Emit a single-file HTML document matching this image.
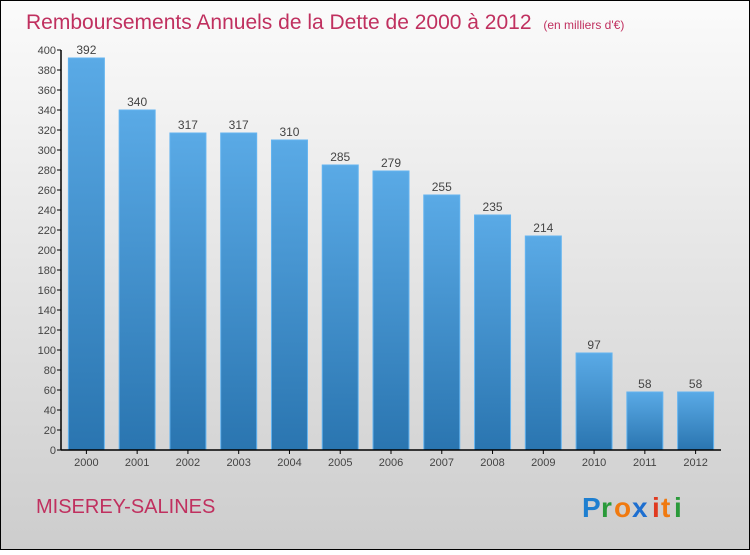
<!DOCTYPE html>
<html><head><meta charset="utf-8"><style>
body{margin:0}
svg text{font-family:"Liberation Sans",sans-serif}
</style></head><body>
<svg id="c" width="750" height="550" xmlns="http://www.w3.org/2000/svg">
<defs>
<linearGradient id="bg" x1="0" y1="0" x2="0" y2="1"><stop offset="0" stop-color="#fbfbfb"/><stop offset="1" stop-color="#cdcdcd"/></linearGradient>
<linearGradient id="bar" x1="0" y1="0" x2="0" y2="1"><stop offset="0" stop-color="#5aaae6"/><stop offset="1" stop-color="#2a75b0"/></linearGradient>
</defs>
<rect x="0.5" y="0.5" width="749" height="549" fill="url(#bg)" stroke="#000"/>
<text x="26" y="29" font-size="21" fill="#c0305f">Remboursements Annuels de la Dette de 2000 à 2012 <tspan font-size="12" dx="6">(en milliers d'€)</tspan></text>
<g id="yaxis"></g><g id="bars"></g><g id="xaxis"></g>
<text x="36" y="513" font-size="20" fill="#c0305f">MISEREY-SALINES</text>
<g font-size="28" font-weight="bold">
<text x="582" y="517" fill="#1e7fd0">P</text><text x="601" y="517" fill="#2a9a3a">r</text><text x="614" y="517" fill="#f07a10">o</text><text x="632" y="517" fill="#1e6fd0">x</text><text x="652" y="517" fill="#e03a20">i</text><text x="661" y="517" fill="#f07a10">t</text><text x="674" y="517" fill="#2a9a3a">i</text>
</g>
</svg>
<script>
const categories=["2000","2001","2002","2003","2004","2005","2006","2007","2008","2009","2010","2011","2012"];
const values=[392,340,317,317,310,285,279,255,235,214,97,58,58];
const yTicks=[0,20,40,60,80,100,120,140,160,180,200,220,240,260,280,300,320,340,360,380,400];
const NS="http://www.w3.org/2000/svg";
const x0=61,x1=721,y0=450,yTop=50,yMax=400;
const band=(x1-x0)/categories.length;
const y=v=>y0-(v/yMax)*(y0-yTop);
const xc=i=>x0+band*(i+0.5);
function mk(t,a,p){const e=document.createElementNS(NS,t);for(const k in a)e.setAttribute(k,a[k]);p.appendChild(e);return e;}
const ya=document.getElementById('yaxis'),ba=document.getElementById('bars'),xa=document.getElementById('xaxis');
let l=mk('line',{x1:x0,y1:yTop,x2:x0,y2:y0,stroke:'#000','stroke-width':1.5},ya);


yTicks.forEach(t=>{
 const tk=mk('line',{x1:x0-4,y1:y(t),x2:x0,y2:y(t),stroke:'#000'},ya);
 
 
 const tx=mk('text',{x:x0-5,y:y(t)+4,'font-size':11,fill:'#444','text-anchor':'end'},ya);
 tx.textContent=t;
 
 
});
const bw=36;
values.forEach((v,i)=>{
 const r=mk('rect',{x:xc(i)-bw/2,y:y(v),width:bw,height:y0-y(v),fill:'url(#bar)',stroke:'#64b4f0','stroke-width':1},ba);
 
 
 const t=mk('text',{x:xc(i),y:y(v)-4,'font-size':12,fill:'#444','text-anchor':'middle'},ba);
 t.textContent=v;
 
 
 const tk=mk('line',{x1:xc(i),y1:y0,x2:xc(i),y2:y0+4,stroke:'#000'},xa);
 
 
 const xl=mk('text',{x:xc(i),y:y0+16,'font-size':11,fill:'#444','text-anchor':'middle'},xa);
 xl.textContent=categories[i];
 
 
});
l=mk('line',{x1:x0,y1:y0,x2:x1,y2:y0,stroke:'#000','stroke-width':1.5},xa);


</script>
</body></html>
